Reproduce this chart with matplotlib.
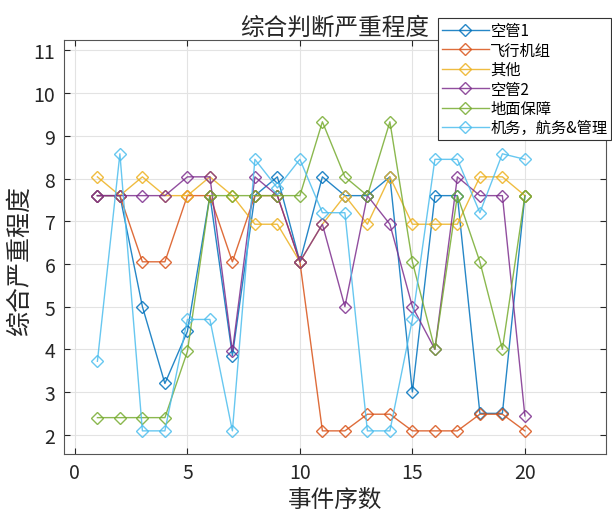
import matplotlib
matplotlib.use('Agg')
import matplotlib.pyplot as plt
import numpy as np

plt.rcParams['font.family'] = ['Noto Sans CJK SC', 'DejaVu Sans']

events = np.arange(1, 21)

kongguan1 = [7.6, 7.6, 5.0, 3.2, 4.42, 7.6, 3.85, 7.6, 8.04, 6.05,
             8.04, 7.6, 7.6, 8.04, 3.0, 7.6, 7.6, 2.5, 2.5, 7.6]
feixing = [7.6, 7.6, 6.05, 6.05, 7.6, 7.6, 6.05, 7.6, 7.6, 6.05,
           2.09, 2.09, 2.48, 2.48, 2.09, 2.09, 2.09, 2.48, 2.48, 2.09]
qita = [8.04, 7.6, 8.04, 7.6, 7.6, 8.04, 7.6, 6.93, 6.93, 6.05,
        6.93, 7.6, 6.93, 8.04, 6.93, 6.93, 6.93, 8.04, 8.04, 7.6]
kongguan2 = [7.6, 7.6, 7.6, 7.6, 8.04, 8.04, 3.95, 8.04, 7.6, 6.05,
             6.93, 5.0, 7.6, 6.93, 5.0, 4.0, 8.04, 7.6, 7.6, 2.44]
dimian = [2.4, 2.4, 2.4, 2.4, 3.95, 7.6, 7.6, 7.6, 7.6, 7.6,
          9.33, 8.04, 7.6, 9.33, 6.05, 4.0, 7.6, 6.05, 4.0, 7.6]
jiwu = [3.72, 8.58, 2.09, 2.09, 4.7, 4.7, 2.09, 8.45, 7.78, 8.45,
        7.2, 7.2, 2.09, 2.09, 4.7, 8.45, 8.45, 7.2, 8.58, 8.45]

labels = ['空管1', '飞行机组', '其他', '空管2', '地面保障', '机务，航务&管理']
colors = ['#0072BD', '#D95319', '#EDB120', '#7E2F8E', '#77AC30', '#4DBEEE']

fig = plt.figure(figsize=(6.12, 5.1), dpi=100)
ax = fig.add_axes([0.104, 0.108, 0.886, 0.812])

for series, label, color in zip([kongguan1, feixing, qita, kongguan2, dimian, jiwu], labels, colors):
    ax.plot(events, series, color=color, marker='D', markersize=6,
            markerfacecolor='none', markeredgewidth=1.0, linewidth=1.0,
            alpha=0.85, label=label)

ax.set_xlim(-0.5, 23.6)
ax.set_ylim(1.55, 11.25)
ax.set_xticks([0, 5, 10, 15, 20])
ax.set_yticks(range(2, 12))
ax.grid(True, color='#e3e3e3', linewidth=0.8)
ax.set_axisbelow(True)
ax.tick_params(direction='in', top=True, right=True, length=4,
               labelsize=14, colors='#262626', pad=6)
for side in ['left', 'bottom', 'top', 'right']:
    ax.spines[side].set_color('#555555')
    ax.spines[side].set_linewidth(0.8)

ax.set_title('综合判断严重程度', fontsize=17, color='#262626', pad=4)
ax.set_xlabel('事件序数', fontsize=17, color='#262626', labelpad=3)
ax.set_ylabel('综合严重程度', fontsize=18, color='#262626')
ax.yaxis.set_label_coords(-0.056, 0.468)

leg = ax.legend(loc='upper right', bbox_to_anchor=(0.999, 0.962),
                bbox_transform=fig.transFigure, fontsize=11, handlelength=3.1,
                handletextpad=0.1, labelspacing=0.16, borderpad=0.25,
                borderaxespad=0, fancybox=False, framealpha=1, numpoints=1)
leg.get_frame().set_edgecolor('#333333')
leg.get_frame().set_linewidth(0.8)

fig.savefig('out.png', dpi=100)
